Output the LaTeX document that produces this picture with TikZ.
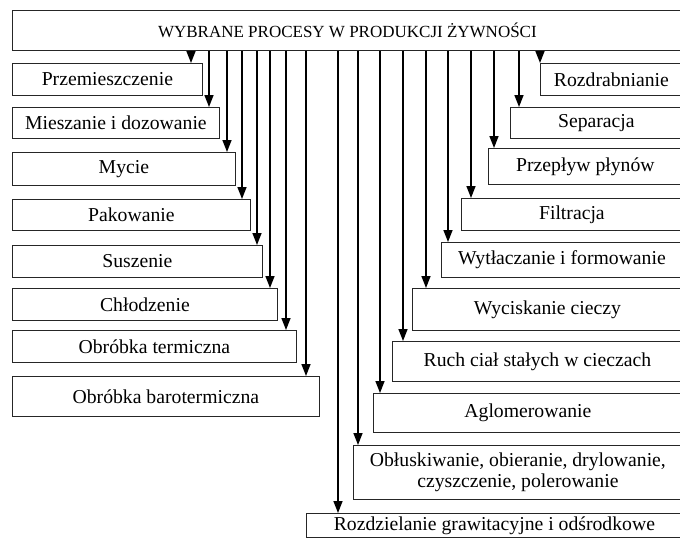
\documentclass[tikz,border=0pt]{standalone}
\usepackage{fontspec}
\setmainfont{Liberation Serif}
\usepackage{tikz}
\usetikzlibrary{arrows.meta}

\begin{document}
\begin{tikzpicture}[x=1pt, y=-1pt,
  box/.style={draw=black!85, line width=0.8pt, anchor=north west, inner sep=0pt,
              align=center, font=\fontsize{19.7}{21}\selectfont},
  arr/.style={-{Triangle[length=12pt, width=9pt]}, line width=1.5pt}]
\useasboundingbox (0,0) rectangle (680,542);
\node[box, minimum width=670pt, minimum height=40pt, font=\fontsize{17}{20}\selectfont] (title) at (12,10) {WYBRANE PROCESY W PRODUKCJI ŻYWNOŚCI};
% lewa kolumna
\node[box, minimum width=190pt, minimum height=32pt] (przem) at (12,63) {Przemieszczenie};
\node[box, minimum width=207pt, minimum height=31pt] (miesz) at (12,107) {Mieszanie i dozowanie};
\node[box, minimum width=223pt, minimum height=33pt] (mycie) at (12,152) {Mycie};
\node[box, minimum width=238pt, minimum height=31pt] (pakow) at (12,199) {Pakowanie};
\node[box, minimum width=250pt, minimum height=32pt] (susz) at (12,245) {Suszenie};
\node[box, minimum width=265pt, minimum height=32pt] (chlodz) at (12,288) {Chłodzenie};
\node[box, minimum width=284pt, minimum height=32pt] (termo) at (12,330) {Obróbka termiczna};
\node[box, minimum width=307pt, minimum height=40pt] (baro) at (12,376) {Obróbka barotermiczna};
% prawa kolumna
\node[box, minimum width=142pt, minimum height=32pt] (rozdr) at (540,63) {Rozdrabnianie};
\node[box, minimum width=172pt, minimum height=31pt] (separ) at (510,107) {Separacja};
\node[box, minimum width=194pt, minimum height=36pt] (przep) at (488,148) {Przepływ płynów};
\node[box, minimum width=221pt, minimum height=32pt] (filtr) at (461,198) {Filtracja};
\node[box, minimum width=241pt, minimum height=35pt] (wytl) at (441,242) {Wytłaczanie i formowanie};
\node[box, minimum width=270pt, minimum height=42pt] (wycisk) at (412,288) {Wyciskanie cieczy};
\node[box, minimum width=290pt, minimum height=40pt] (ruch) at (392,341) {Ruch ciał stałych w cieczach};
\node[box, minimum width=309pt, minimum height=39pt] (aglom) at (373,393) {Aglomerowanie};
\node[box, minimum width=329pt, minimum height=54pt] (oblusk) at (353,445) {Obłuskiwanie, obieranie, drylowanie,\\czyszczenie, polerowanie};
\node[box, minimum width=376pt, minimum height=24pt] (rozdz) at (306,513) {Rozdzielanie grawitacyjne i odśrodkowe};
% strzalki
\foreach \b/\x in {przem/191, miesz/209, mycie/227, pakow/242, susz/257, chlodz/270, termo/286, baro/306,
                   rozdr/540, separ/519, przep/494, filtr/471, wytl/448, wycisk/426, ruch/403, aglom/380,
                   oblusk/358, rozdz/338}{
  \coordinate (ax) at (\x,0);
  \draw[arr] (title.south -| ax) -- (\b.north -| ax);
}
\end{tikzpicture}
\end{document}
